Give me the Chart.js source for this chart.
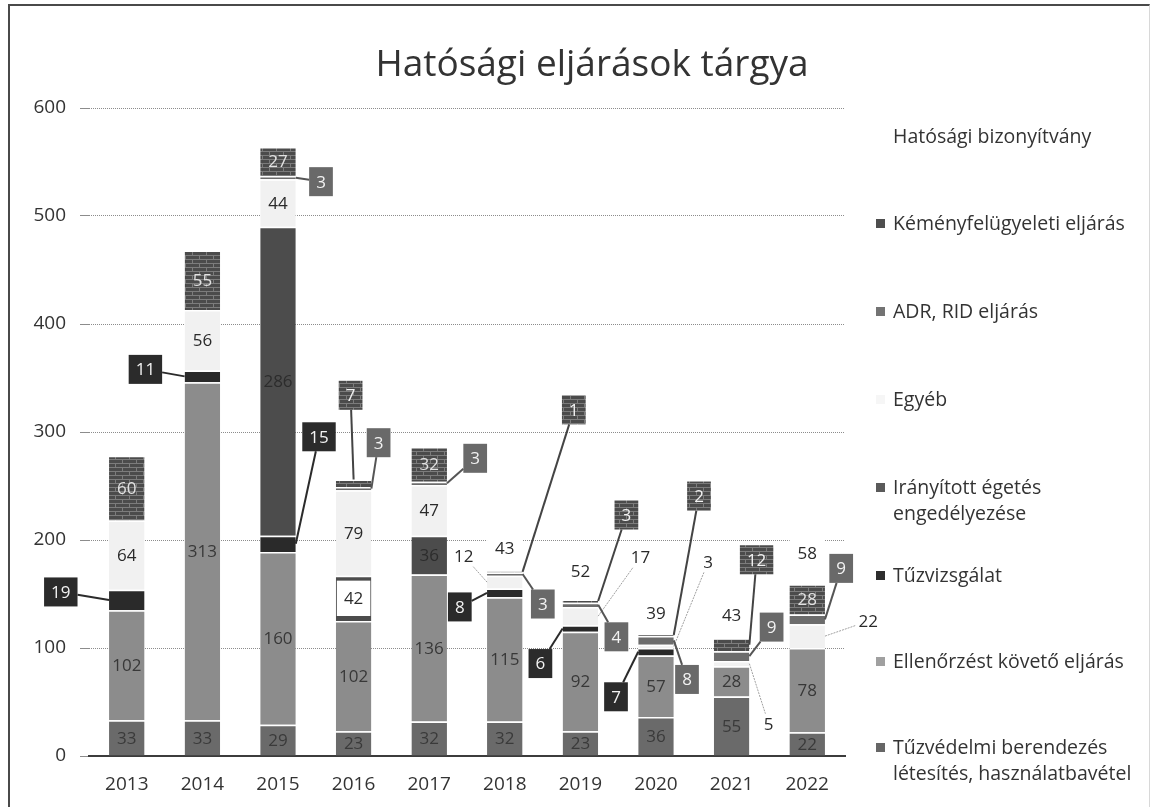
<!DOCTYPE html>
<html><head><meta charset="utf-8">
<script src="https://cdn.jsdelivr.net/npm/chart.js@4.4.1/dist/chart.umd.min.js"></script>
<style>
html,body{margin:0;padding:0;background:#fff;}
#wrap{position:relative;width:1158px;height:807px;overflow:hidden;background:#fff;}
#frame{position:absolute;left:8px;top:4px;width:1142px;height:820px;border-left:2px solid #4a4a4a;border-top:2px solid #4a4a4a;border-right:1px solid #d8d8d8;box-sizing:border-box;pointer-events:none;}
#c{position:absolute;left:0;top:0;}
#title{position:absolute;left:0;width:1184px;top:38px;text-align:center;font-family:'Open Sans',sans-serif;font-size:37px;color:#333;line-height:48px;}
.leg{position:absolute;left:876px;font-family:'Open Sans',sans-serif;font-size:19.5px;color:#333;line-height:26px;white-space:nowrap;}
.leg i{position:absolute;left:0;top:9px;width:9px;height:9px;}
.leg span{display:block;margin-left:17px;}
</style></head>
<body>
<div id="wrap">
<canvas id="c" width="1158" height="807"></canvas>
<div id="title">Hatósági eljárások tárgya</div>
<div id="legend"></div>
<div id="frame"></div>
</div>
<script>
// ---------- data ----------
const years = ['2013','2014','2015','2016','2017','2018','2019','2020','2021','2022'];
const seriesNames = [
  'Tűzvédelmi berendezés létesítés, használatbavétel',
  'Ellenőrzést követő eljárás',
  'Tűzvizsgálat',
  'Irányított égetés engedélyezése',
  'Egyéb',
  'ADR, RID eljárás',
  'Kéményfelügyeleti eljárás',
  'Hatósági bizonyítvány'
];
const tuzvedelmi   = [33, 33, 29, 23, 32, 32, 23, 36, 55, 22];
const ellenorzest  = [102, 313, 160, 102, 136, 115, 92, 57, 28, 78];
const tuzvizsgalat = [19, 11, 15, 0, 0, 8, 6, 7, 0, 0];
const iranyitott   = [0, 0, 286, 42, 36, 0, 0, 0, 0, 0];
const egyeb        = [64, 56, 44, 79, 47, 12, 17, 3, 5, 22];
const adrRid       = [0, 0, 3, 3, 3, 3, 4, 8, 9, 9];
const kemeny       = [60, 55, 27, 7, 32, 1, 3, 2, 12, 28];
const hatosagi     = [0, 0, 0, 0, 0, 43, 52, 39, 43, 58];
const yTicks = [0, 100, 200, 300, 400, 500, 600];
const seriesData = [tuzvedelmi, ellenorzest, tuzvizsgalat, iranyitott, egyeb, adrRid, kemeny, hatosagi];

// ---------- styles ----------
function brick(base, mortar){
  const c = document.createElement('canvas'); c.width = 14; c.height = 8;
  const g = c.getContext('2d');
  g.fillStyle = base; g.fillRect(0,0,14,8);
  g.fillStyle = mortar;
  g.fillRect(0,3,14,1); g.fillRect(0,7,14,1);
  g.fillRect(3,0,1,3); g.fillRect(10,4,1,3);
  return g.createPattern(c,'repeat');
}
const brickFill = brick('#4b4b4b', '#7c7c7c');
const fills = ['#6a6a6a', '#8c8c8c', '#2a2a2a', '#4c4c4c', '#f1f1f1', '#6c6c6c', brickFill, '#ffffff'];
const legendMarks = ['#666666', '#a0a0a0', '#2e2e2e', '#5a5a5a', '#f6f6f6', '#737373', '#4e4e4e', '#ffffff'];

const labelStyle = [
  {inColor:'#3a3a3a'},
  {inColor:'#383838'},
  {inColor:'#eee', box:true, boxFill:'#2b2b2b', line:'#2b2b2b', boxText:'#f2f2f2'},
  {inColor:'#2c2c2c', whiteBg:[3]},
  {inColor:'#2a2a2a', textColor:'#2a2a2a'},
  {inColor:'#eee', box:true, boxFill:'#696969', line:'#555', boxText:'#f2f2f2'},
  {inColor:'#e2e2e2', box:true, boxFill:brickFill, line:'#444', boxText:'#f2f2f2'},
  {inColor:'#2a2a2a'}
];
// callout offsets (px, from bar centre / segment centre), key "series-year"
const callouts = {
  '2-0':{dx:-66,dy:-8,a:'l'}, '2-1':{dx:-57,dy:-7,a:'l'}, '2-2':{dx:41,dy:-107,a:'r'},
  '2-5':{dx:-45,dy:14,a:'l'}, '2-6':{dx:-40,dy:35,a:'l'}, '2-7':{dx:-40,dy:45,a:'l'},
  '5-2':{dx:43,dy:4,a:'r'}, '5-3':{dx:25,dy:-46,a:'r'}, '5-4':{dx:46,dy:-25,a:'r'},
  '5-5':{dx:38,dy:30,a:'r'}, '5-6':{dx:36,dy:32,a:'r'}, '5-7':{dx:31,dy:39,a:'r'},
  '5-8':{dx:40,dy:-29,a:'r'}, '5-9':{dx:34,dy:-51,a:'r'},
  '6-3':{dx:-3,dy:-88,a:'t'}, '6-5':{dx:69,dy:-162,a:'r'}, '6-6':{dx:46,dy:-86,a:'r'},
  '6-7':{dx:43,dy:-139,a:'r'}, '6-8':{dx:25,dy:-85,a:'r'},
  '4-5':{dx:-41,dy:-26,a:'l'}, '4-6':{dx:60,dy:-59,a:'r'}, '4-7':{dx:52,dy:-84,a:'r'},
  '4-8':{dx:37,dy:60,a:'r'}, '4-9':{dx:61,dy:-15,a:'r'}
};

function clip(ax, ay, cx, cy, hw, hh){
  const dx = ax-cx, dy = ay-cy;
  if (!dx && !dy) return [cx, cy];
  const tx = dx ? hw/Math.abs(dx) : Infinity;
  const ty = dy ? hh/Math.abs(dy) : Infinity;
  const t = Math.min(tx, ty, 1);
  return [cx+dx*t, cy+dy*t];
}

const labelPlugin = {
  id:'segLabels',
  afterDatasetsDraw(chart){
    const ctx = chart.ctx;
    ctx.save();
    ctx.font = '17px "Open Sans"';
    ctx.textAlign = 'center'; ctx.textBaseline = 'middle';
    const jobs = [];
    chart.data.datasets.forEach((ds, si) => {
      const meta = chart.getDatasetMeta(si);
      meta.data.forEach((bar, ci) => {
        const v = ds.data[ci];
        if (!v) return;
        const st = labelStyle[si];
        const top = Math.min(bar.y, bar.base), bot = Math.max(bar.y, bar.base);
        const cy = (top+bot)/2, cx = bar.x, hw = bar.width/2;
        const txt = String(v);
        const tw = ctx.measureText(txt).width;
        const co = callouts[si+'-'+ci];
        if (co){
          const bx = cx+co.dx, by = cy+co.dy;
          const isBox = !!st.box;
          const w = isBox ? Math.max(23, tw+14) : tw+6, h = isBox ? 29 : 20;
          let ax = cx, ay = cy;
          if (co.a==='l') ax = cx-hw; else if (co.a==='r') ax = cx+hw; else if (co.a==='t') ay = top;
          const [ex, ey] = clip(ax, ay, bx, by, w/2, h/2);
          jobs.push({kind:'line', ax, ay, ex, ey, isBox, color: isBox ? st.line : '#a0a0a0'});
          jobs.push({kind:'label', bx, by, w, h, isBox, fill: st.boxFill, color: isBox ? st.boxText : st.textColor, txt});
        } else {
          const wb = st.whiteBg && st.whiteBg.includes(ci);
          jobs.push({kind:'inside', cx, cy, hw, top, bot, wb, color: st.inColor, txt});
        }
      });
    });
    jobs.filter(j=>j.kind==='line').forEach(j=>{
      ctx.beginPath(); ctx.moveTo(j.ax, j.ay); ctx.lineTo(j.ex, j.ey);
      ctx.strokeStyle = j.color; ctx.lineWidth = j.isBox ? 2 : 1;
      ctx.setLineDash(j.isBox ? [] : [2,1]); ctx.stroke(); ctx.setLineDash([]);
    });
    jobs.filter(j=>j.kind!=='line').forEach(j=>{
      if (j.kind==='label'){
        if (j.isBox){ ctx.fillStyle = j.fill; ctx.fillRect(j.bx-j.w/2, j.by-j.h/2, j.w, j.h); }
        ctx.fillStyle = j.color; ctx.fillText(j.txt, j.bx, j.by+1);
      } else {
        if (j.wb){ ctx.fillStyle = '#fff'; ctx.fillRect(j.cx-j.hw+1, j.top+5, 2*j.hw-2, j.bot-j.top-10); }
        ctx.fillStyle = j.color; ctx.fillText(j.txt, j.cx, j.cy+1);
      }
    });
    ctx.restore();
  }
};

// ---------- legend (HTML) ----------
const legendTops = [123, 210, 298, 386, 474, 562, 648, 734];
const legendText = {3:'Irányított égetés<br>engedélyezése', 0:'Tűzvédelmi berendezés<br>létesítés, használatbavétel'};
const legEl = document.getElementById('legend');
for (let k = seriesNames.length-1, n = 0; k >= 0; k--, n++){
  const d = document.createElement('div');
  d.className = 'leg'; d.style.top = legendTops[n]+'px';
  d.innerHTML = '<i style="background:'+legendMarks[k]+'"></i><span>'+(legendText[k]||seriesNames[k])+'</span>';
  legEl.appendChild(d);
}

// ---------- chart ----------
new Chart(document.getElementById('c').getContext('2d'), {
  type:'bar',
  data:{
    labels: years,
    datasets: seriesNames.map((n,k)=>({
      label:n, data:seriesData[k], backgroundColor:fills[k],
      borderColor:'#ffffff', borderWidth:{top:1.5,left:0,right:0,bottom:0}, borderSkipped:false,
      barPercentage:0.47, categoryPercentage:1
    }))
  },
  options:{
    responsive:false, animation:false, devicePixelRatio:1,
    layout:{padding:{left:8, right:313, top:108, bottom:0}},
    plugins:{legend:{display:false}, title:{display:false}, tooltip:{enabled:false}},
    scales:{
      x:{stacked:true, grid:{display:false, drawTicks:false},
         afterFit(s){ s.height = 51; },
         border:{display:true, color:'#3c3c3c', width:2},
         ticks:{font:{family:'Open Sans', size:19}, color:'#333', padding:17}},
      y:{stacked:true, min:0, max:600,
         afterBuildTicks(s){ s.ticks = yTicks.map(v=>({value:v})); },
         afterFit(s){ s.width = 81; },
         ticks:{font:{family:'Open Sans', size:19}, color:'#333', padding:14},
         grid:{color:'#8c8c8c', lineWidth:1, tickLength:9, drawTicks:true, tickColor:'#8c8c8c'},
         border:{display:false, dash:[1,1]}}
    }
  },
  plugins:[labelPlugin]
});
</script>
</body></html>
